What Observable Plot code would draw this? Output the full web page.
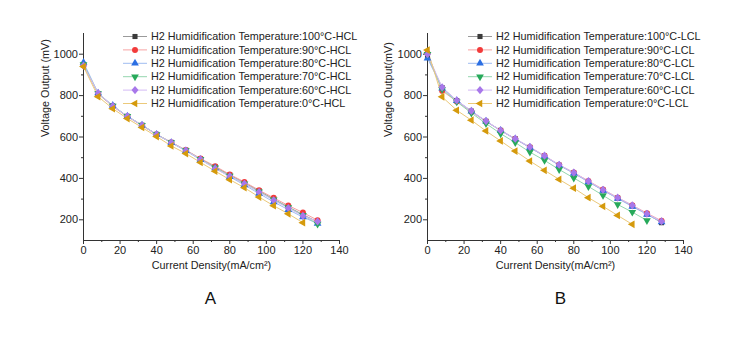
<!DOCTYPE html>
<html><head><meta charset="utf-8">
<script src="https://cdn.jsdelivr.net/npm/d3@7"></script>
<script src="https://cdn.jsdelivr.net/npm/@observablehq/plot@0.6"></script>
<style>
body{margin:0;background:#fff;font-family:"Liberation Sans",Arial,sans-serif}
#wrap{position:relative;width:743px;height:337px;overflow:hidden}
.abs{position:absolute;top:0}
</style></head>
<body><div id="wrap"></div>
<script>
// ---- data ----
const currentDensity = [0,8,16,24,32,40,48,56,64,72,80,88,96,104,112,120,128];
const xTicks = [0,20,40,60,80,100,120,140];
const yTicks = [200,400,600,800,1000];

const seriesNames = ["100°C","90°C","80°C","70°C","60°C","0°C"];

// Panel A (HCL)
const hcl100 = [950,810,750,700,657,613,574,536,494,456,416,379,340,300,262,225,190];
const hcl90  = [945,808,748,698,655,612,574,537,496,459,419,383,343,306,269,235,198];
const hcl80  = [960,812,752,700,657,612,572,533,490,450,408,368,327,286,249,213,182];
const hcl70  = [950,810,750,700,657,612,573,535,493,452,412,374,336,297,259,222,180];
const hcl60  = [945,812,750,700,657,612,573,535,492,448,410,374,334,294,257,219,192];
const hcl0   = [940,795,737,689,646,602,557,520,477,435,394,355,310,268,229,186];

// Panel B (LCL)
const lcl100 = [990,838,776,725,676,632,591,550,508,464,426,385,343,305,267,228,186];
const lcl90  = [1005,823,772,722,675,632,590,550,509,465,428,388,347,307,270,232,195];
const lcl80  = [980,836,775,724,676,631,590,549,507,463,425,383,342,303,264,226,189];
const lcl70  = [1000,830,770,716,665,616,573,527,487,443,402,361,318,274,237,197];
const lcl60  = [1000,840,777,726,677,632,592,552,510,466,428,387,345,307,270,229,193];
const lcl0   = [1020,794,729,681,629,581,532,484,439,395,353,307,265,221,178];

// ---- styles ----
const markColors = ["#3b3b3b","#f23b3b","#2b6fe3","#27a95a","#a878ea","#d59a0c"];
const lineColors = ["#9a9a9a","#f7a3a3","#9fbcf0","#94d6ae","#d4bbf5","#ebc97a"];

function triDown(){ return {draw(ctx,size){const s=Math.sqrt(size*4/Math.sqrt(3)),h=s*Math.sqrt(3)/2;ctx.moveTo(0,2*h/3);ctx.lineTo(-s/2,-h/3);ctx.lineTo(s/2,-h/3);ctx.closePath();}}; }
function triLeft(){ return {draw(ctx,size){const s=Math.sqrt(size*4/Math.sqrt(3)),h=s*Math.sqrt(3)/2;ctx.moveTo(-2*h/3,0);ctx.lineTo(h/3,-s/2);ctx.lineTo(h/3,s/2);ctx.closePath();}}; }
const symbols = [d3.symbolSquare, d3.symbolCircle, d3.symbolTriangle, triDown(), {draw(ctx,size){const r=Math.sqrt(size/2);ctx.moveTo(0,-r*1.05);ctx.lineTo(r*0.9,0);ctx.lineTo(0,r*1.05);ctx.lineTo(-r*0.9,0);ctx.closePath();}}, triLeft()];
const symbolSizes = [26, 28, 26, 26, 30, 26];

function rowsOf(vals){ return vals.map((v,i)=>({cd: currentDensity[i], v})); }

function makePanel(seriesVals, suffix, yLabel, letter, opts){
  const marks = [
    Plot.ruleX([0], {stroke:"#333", strokeWidth:1}),
    Plot.ruleY([100], {stroke:"#333", strokeWidth:1}),
    Plot.axisX(xTicks, {tickSize:4, tickPadding:2, tickFormat:d=>String(d), label:null, stroke:"#333", fill:"#222", fontSize:11}),
    Plot.axisX([10,30,50,70,90,110,130], {tickSize:2, tickFormat:()=>"", label:null, stroke:"#333"}),
    Plot.axisY(yTicks, {tickSize:4, tickPadding:1.5, tickFormat:d=>String(d), label:null, stroke:"#333", fill:"#222", fontSize:11}),
    Plot.axisY([300,500,700,900], {tickSize:2, tickFormat:()=>"", label:null, stroke:"#333"})
  ];
  seriesVals.forEach((vals,i)=>{
    marks.push(Plot.line(rowsOf(vals), {x:"cd", y:"v", stroke: lineColors[i], strokeWidth:1}));
  });
  seriesVals.forEach((vals,i)=>{
    marks.push(Plot.dot(rowsOf(vals), {x:"cd", y:"v", fill: markColors[i], stroke:"none", symbol: symbols[i], r: Math.sqrt(symbolSizes[i]/Math.PI)}));
  });
  marks.push(Plot.text(["Current Density(mA/cm²)"], {frameAnchor:"bottom", dy:28, fontSize:10.8, fill:"#222"}));
  marks.push(Plot.text([yLabel], {frameAnchor:"left", dx:opts.yLabelDx, rotate:-90, fontSize:10.8, fill:"#222"}));
  marks.push(Plot.text([letter], {frameAnchor:"bottom", dx:opts.letterDx, dy:63, fontSize:17, fill:"#111"}));
  return Plot.plot({
    width: opts.width, height: 337,
    marginLeft: opts.marginLeft, marginRight: opts.marginRight, marginTop: 33, marginBottom: 97,
    x: {domain:[0,140], label:null},
    y: {domain:[100,1100], label:null},
    style: {fontFamily:"'Liberation Sans', Arial, sans-serif", fontSize:"11px", background:"transparent", overflow:"visible"},
    marks
  });
}

function makeLegend(suffix, left, top, textLeft){
  const rowH = 13.4;
  const svg = d3.create("svg").attr("width", 260).attr("height", 90)
    .style("position","absolute").style("left", left+"px").style("top", top+"px").style("overflow","visible");
  seriesNames.forEach((name,i)=>{
    const cy = 6.5 + i*rowH;
    svg.append("line").attr("x1",0).attr("x2",24).attr("y1",cy).attr("y2",cy).attr("stroke",lineColors[i]).attr("stroke-width",1);
    svg.append("path").attr("d", d3.symbol(symbols[i], symbolSizes[i])()).attr("transform",`translate(12,${cy})`).attr("fill",markColors[i]);
    svg.append("text").attr("x", textLeft).attr("y", cy).attr("dy","0.35em")
      .attr("font-family","'Liberation Sans', Arial, sans-serif").attr("font-size","10.8px").attr("fill","#222")
      .text("H2 Humidification Temperature:" + name + "-" + suffix);
  });
  return svg.node();
}

const wrap = document.getElementById("wrap");
const pA = makePanel([hcl100,hcl90,hcl80,hcl70,hcl60,hcl0], "HCL", "Voltage Output (mV)", "A",
  {width:372, marginLeft:83, marginRight:33, yLabelDx:-38, letterDx:-1});
pA.classList.add("abs"); pA.style.left = "0px";
wrap.appendChild(pA);
const pB = makePanel([lcl100,lcl90,lcl80,lcl70,lcl60,lcl0], "LCL", "Voltage Output(mV)", "B",
  {width:371, marginLeft:55, marginRight:60, yLabelDx:-39, letterDx:5});
pB.classList.add("abs"); pB.style.left = "372px";
wrap.appendChild(pB);
wrap.appendChild(makeLegend("HCL", 123, 29.5, 28));
wrap.appendChild(makeLegend("LCL", 468, 29.5, 28));
</script>
</body></html>
